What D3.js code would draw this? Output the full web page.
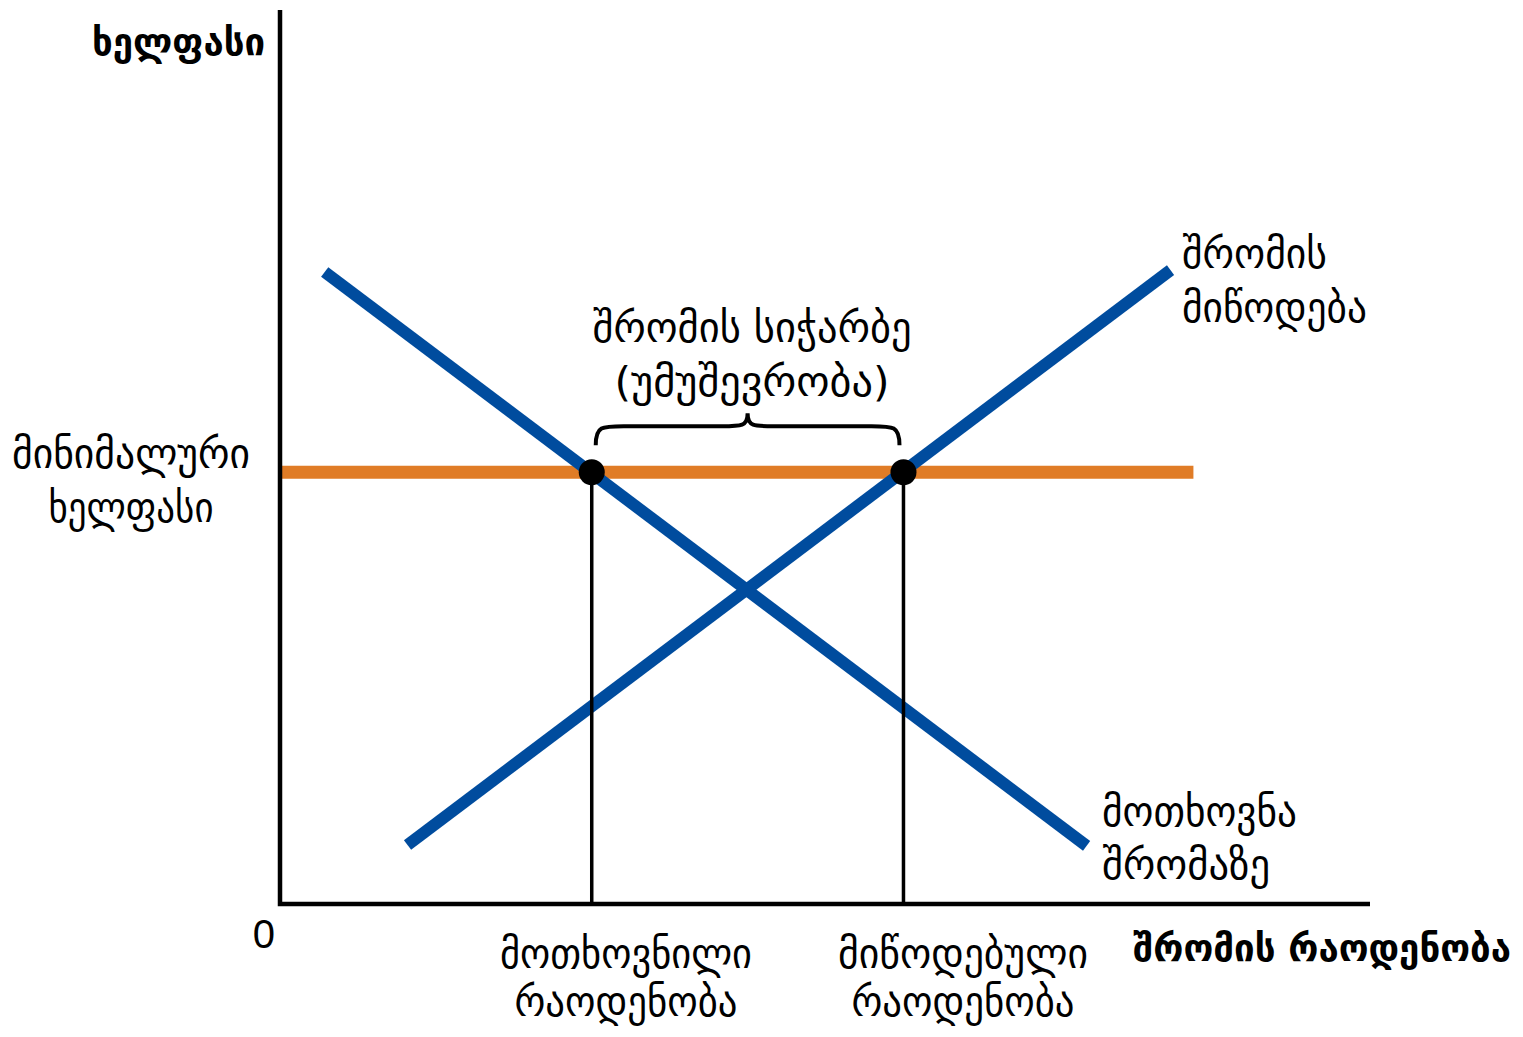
<!DOCTYPE html>
<html>
<head>
<meta charset="utf-8">
<script src="https://cdn.jsdelivr.net/npm/d3@7"></script>
<style>
  body{margin:0;background:#fff;}
  text{font-family:"DejaVu Sans",sans-serif;fill:#000;}
</style>
</head>
<body>
<div id="chart"></div>
<script>
// data (quantity, wage) in chart units
const demandLine=[[0.41,7.07],[7.40,0.65]];
const supplyLine=[[1.17,0.66],[8.17,7.09]];
const minWage=4.83;
const minWageEnd=8.38;
const qDemanded=2.86;
const qSupplied=5.72;
const yTitle="ხელფასი";
const xTitle="შრომის რაოდენობა";
const minWageLabel=["მინიმალური","ხელფასი"];
const surplusLabel=["შრომის სიჭარბე","(უმუშევრობა)"];
const supplyLabel=["შრომის","მიწოდება"];
const demandLabel=["მოთხოვნა","შრომაზე"];
const qDemandedLabel=["მოთხოვნილი","რაოდენობა"];
const qSuppliedLabel=["მიწოდებული","რაოდენობა"];

const width=1523, height=1037;
const svg=d3.select("#chart").append("svg").attr("width",width).attr("height",height);

const x=d3.scaleLinear().domain([0,10]).range([280,1370]);
const y=d3.scaleLinear().domain([0,10]).range([904,10]);
const line=d3.line().x(d=>x(d[0])).y(d=>y(d[1]));

const blue="#004c9e", orange="#e07c26";

// orange min wage line
svg.append("path").attr("d",line([[0,minWage],[minWageEnd,minWage]]))
  .attr("stroke",orange).attr("stroke-width",13).attr("fill","none");

// curves
[demandLine,supplyLine].forEach(l=>{
  svg.append("path").attr("d",line(l))
    .attr("stroke",blue).attr("stroke-width",12).attr("fill","none");
});

// drop lines
[qDemanded,qSupplied].forEach(q=>{
  svg.append("path").attr("d",line([[q,minWage],[q,0]]))
    .attr("stroke","#000").attr("stroke-width",3.5).attr("fill","none");
});

// axes
svg.append("path").attr("d",line([[0,10],[0,0],[10,0]]))
  .attr("stroke","#000").attr("stroke-width",4.5).attr("fill","none");

// dots
[qDemanded,qSupplied].forEach(q=>{
  svg.append("circle").attr("cx",x(q)).attr("cy",y(minWage)).attr("r",13);
});

// brace over the surplus
const braceDraw=(x0,x1,yb)=>{
  const m=(x0+x1)/2, top=yb-32, mid=yb-19;
  return `M${x0},${yb} C${x0},${mid} ${x0+6},${mid} ${x0+28},${mid} L${m-26},${mid} C${m-6},${mid} ${m},${mid} ${m},${top}`+
    ` C${m},${mid} ${m+6},${mid} ${m+26},${mid} L${x1-28},${mid} C${x1-6},${mid} ${x1},${mid} ${x1},${yb}`;
};
svg.append("path").attr("d",braceDraw(x(qDemanded)+4,x(qSupplied)-4,y(minWage)-27))
  .attr("stroke","#000").attr("stroke-width",4).attr("fill","none");

// multi-line labels, each line stretched to the width seen in the picture
const lines=(arr,px,py,anchor,size,gap,widths,weight)=>{
  const t=svg.append("text").attr("text-anchor",anchor)
    .style("font-size",size+"px").style("font-weight",weight||"normal");
  arr.forEach((s,i)=>t.append("tspan").attr("x",px).attr("y",py+i*gap)
    .attr("textLength",widths[i]).attr("lengthAdjust","spacingAndGlyphs").text(s));
};

lines([yTitle],265,55,"end",38,0,[173],"bold");
lines(minWageLabel,131,468,"middle",41,54,[238,165]);
lines(surplusLabel,752,342,"middle",41,54,[319,275]);
lines(supplyLabel,1182,268,"start",41,54,[145,185]);
lines(demandLabel,1102,826,"start",41,53,[195,168]);
lines(qDemandedLabel,626,968,"middle",41,48,[252,223]);
lines(qSuppliedLabel,963,968,"middle",41,48,[250,223]);
lines([xTitle],1511,961,"end",37,0,[378],"bold");

svg.append("text").attr("x",275).attr("y",948).attr("text-anchor","end")
  .style("font-family","'Liberation Sans',Arial,sans-serif").style("font-size","40px").text("0");
</script>
</body>
</html>
